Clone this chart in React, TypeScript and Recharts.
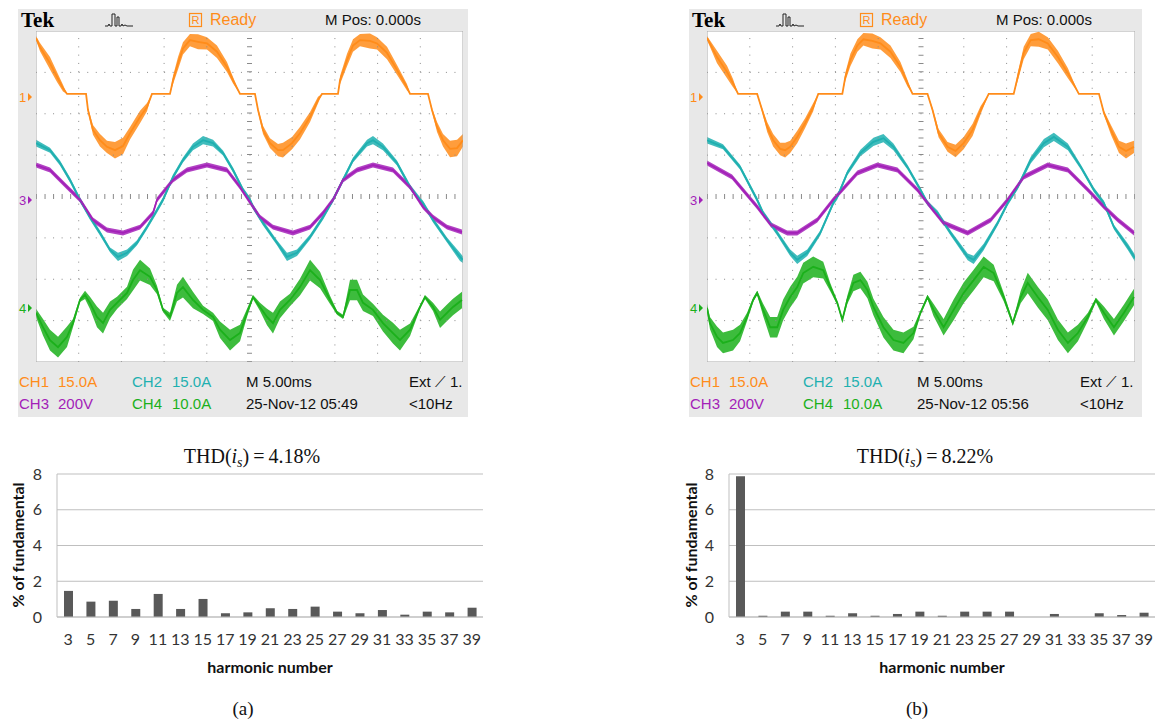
import React from "react";
import {
  ComposedChart,
  Line,
  Area,
  XAxis,
  YAxis,
  ReferenceLine,
  BarChart,
  Bar,
  CartesianGrid,
} from "recharts";

// scope traces: [time ms, level in divisions from centre, noise half-width in divisions]
type Pt = [number, number, number];

const L_CH1: Pt[] = [
  [0, 3.83, 0.05], [0.47, 3.61, 0.1], [1.64, 3.22, 0.15], [2.46, 2.89, 0.12], [3.16, 2.62, 0.08],
  [3.63, 2.48, 0], [5.86, 2.48, 0], [6.09, 2.09, 0.05], [6.67, 1.61, 0.12], [7.49, 1.36, 0.15],
  [8.31, 1.2, 0.15], [9.25, 1.12, 0.2], [10.19, 1.22, 0.2], [11.01, 1.53, 0.15], [12.18, 1.92, 0.15],
  [13.0, 2.16, 0.1], [13.58, 2.48, 0], [15.69, 2.48, 0], [16.04, 2.81, 0.1], [16.63, 3.22, 0.15],
  [17.21, 3.58, 0.15], [18.03, 3.78, 0.15], [18.97, 3.74, 0.18], [20.02, 3.7, 0.15], [21.19, 3.5, 0.15],
  [22.36, 3.13, 0.12], [23.07, 2.81, 0.08], [23.89, 2.48, 0], [25.64, 2.48, 0], [26.0, 2.09, 0.05],
  [26.58, 1.61, 0.1], [27.4, 1.29, 0.12], [28.34, 1.12, 0.15], [28.92, 1.12, 0.18], [29.98, 1.29, 0.15],
  [30.91, 1.53, 0.15], [32.09, 1.92, 0.12], [33.02, 2.33, 0.08], [33.49, 2.48, 0], [35.36, 2.48, 0],
  [35.6, 2.81, 0.1], [36.42, 3.3, 0.15], [37.12, 3.65, 0.15], [37.94, 3.78, 0.15], [39.11, 3.76, 0.18],
  [39.93, 3.7, 0.15], [41.1, 3.47, 0.15], [42.27, 3.06, 0.12], [43.44, 2.64, 0.08], [43.8, 2.48, 0],
  [45.9, 2.48, 0], [46.37, 2.09, 0.05], [46.96, 1.68, 0.12], [47.66, 1.36, 0.15], [48.48, 1.15, 0.2],
  [49.3, 1.17, 0.2], [50.0, 1.36, 0.15],
];

const L_CH2: Pt[] = [
  [0, 1.29, 0.08], [1.64, 1.12, 0.06], [2.81, 0.81, 0.06], [3.98, 0.4, 0.06], [5.15, -0.08, 0.06],
  [6.32, -0.5, 0.06], [7.49, -0.88, 0.06], [8.67, -1.29, 0.06], [9.6, -1.46, 0.1], [10.66, -1.36, 0.08],
  [11.83, -1.12, 0.06], [13.0, -0.74, 0.06], [14.17, -0.33, 0.06], [14.87, -0.08, 0.06], [16.04, 0.47, 0.06],
  [17.21, 0.88, 0.06], [18.38, 1.2, 0.08], [19.56, 1.36, 0.1], [20.73, 1.29, 0.08], [21.9, 1.05, 0.06],
  [23.07, 0.64, 0.06], [24.24, 0.16, 0.06], [25.06, -0.08, 0.06], [25.41, -0.25, 0.06], [26.58, -0.64, 0.06],
  [28.22, -1.12, 0.06], [29.39, -1.46, 0.1], [30.56, -1.36, 0.08], [32.09, -0.98, 0.06], [33.61, -0.5, 0.06],
  [34.78, -0.08, 0.06], [35.95, 0.4, 0.06], [37.12, 0.88, 0.06], [38.76, 1.29, 0.08], [39.46, 1.36, 0.1],
  [40.63, 1.2, 0.08], [42.27, 0.81, 0.06], [43.8, 0.23, 0.06], [44.97, -0.08, 0.06], [45.32, -0.16, 0.06],
  [46.49, -0.57, 0.06], [48.13, -1.05, 0.06], [49.65, -1.46, 0.1], [50.0, -1.53, 0.08],
];

const L_CH3: Pt[] = [
  [0, 0.76, 0.06], [1.64, 0.64, 0.06], [3.63, 0.23, 0.06], [5.15, -0.08, 0.06], [6.67, -0.57, 0.06],
  [8.31, -0.81, 0.06], [10.19, -0.88, 0.06], [12.18, -0.74, 0.06], [13.7, -0.4, 0.06], [14.17, -0.08, 0.06],
  [16.04, 0.4, 0.06], [17.68, 0.64, 0.06], [20.02, 0.76, 0.06], [22.36, 0.64, 0.06], [23.89, 0.23, 0.06],
  [25.41, -0.25, 0.06], [26.23, -0.5, 0.06], [27.75, -0.74, 0.06], [30.09, -0.88, 0.06], [32.09, -0.74, 0.06],
  [33.61, -0.4, 0.06], [34.78, -0.08, 0.06], [35.95, 0.4, 0.06], [37.59, 0.64, 0.06], [39.46, 0.76, 0.06],
  [41.8, 0.64, 0.06], [43.8, 0.23, 0.06], [45.32, -0.25, 0.06], [46.49, -0.5, 0.06], [48.13, -0.74, 0.06],
  [49.88, -0.86, 0.06],
];

const L_CH4: Pt[] = [
  [0, -2.81, 0.1], [0.82, -3.16, 0.2], [1.64, -3.47, 0.25], [2.58, -3.64, 0.25], [3.63, -3.39, 0.25],
  [4.33, -3.06, 0.1], [5.15, -2.5, 0.05], [5.74, -2.38, 0.1], [6.32, -2.57, 0.15], [7.14, -2.91, 0.25],
  [7.85, -3.06, 0.25], [8.67, -2.74, 0.2], [9.49, -2.57, 0.15], [10.66, -2.33, 0.15], [11.36, -2.02, 0.25],
  [12.18, -1.78, 0.25], [13.35, -1.94, 0.2], [14.17, -2.26, 0.1], [14.87, -2.74, 0.05], [15.69, -2.91, 0.1],
  [16.51, -2.33, 0.2], [17.21, -2.19, 0.25], [18.38, -2.5, 0.2], [19.56, -2.74, 0.1], [20.73, -2.91, 0.1],
  [21.55, -3.22, 0.2], [22.72, -3.47, 0.25], [23.89, -3.3, 0.2], [24.71, -2.81, 0.1], [25.41, -2.43, 0.05],
  [26.23, -2.67, 0.1], [27.05, -2.91, 0.2], [27.75, -3.06, 0.25], [28.57, -2.74, 0.2], [29.74, -2.5, 0.15],
  [30.91, -2.19, 0.2], [32.09, -1.78, 0.25], [33.26, -2.02, 0.2], [34.43, -2.5, 0.1], [35.25, -2.81, 0.05],
  [35.95, -2.91, 0.05], [36.77, -2.26, 0.25], [37.59, -2.26, 0.25], [38.29, -2.57, 0.2], [39.46, -2.74, 0.15],
  [40.63, -3.06, 0.2], [41.8, -3.3, 0.25], [42.62, -3.47, 0.25], [43.8, -3.22, 0.15], [44.97, -2.67, 0.05],
  [45.55, -2.43, 0.05], [46.49, -2.67, 0.1], [47.31, -2.98, 0.2], [48.13, -2.81, 0.2], [48.83, -2.67, 0.2],
  [49.88, -2.5, 0.2],
];

const R_CH1: Pt[] = [
  [0, 3.83, 0.05], [1.17, 3.37, 0.15], [2.34, 3.01, 0.15], [3.04, 2.74, 0.1], [3.63, 2.48, 0],
  [5.86, 2.48, 0], [6.44, 2.09, 0.05], [7.03, 1.68, 0.12], [7.73, 1.36, 0.15], [8.55, 1.15, 0.15],
  [9.13, 1.12, 0.18], [9.72, 1.2, 0.15], [10.54, 1.44, 0.15], [11.48, 1.78, 0.12], [12.41, 2.16, 0.1],
  [13.0, 2.48, 0], [15.81, 2.48, 0], [16.16, 2.89, 0.1], [16.75, 3.3, 0.15], [17.57, 3.65, 0.15],
  [18.27, 3.8, 0.15], [19.32, 3.76, 0.18], [20.26, 3.7, 0.15], [21.43, 3.5, 0.15], [22.6, 3.13, 0.12],
  [23.42, 2.74, 0.08], [24.01, 2.48, 0], [25.76, 2.48, 0], [26.35, 2.09, 0.05], [27.05, 1.53, 0.1],
  [28.1, 1.2, 0.12], [29.04, 1.1, 0.15], [29.98, 1.29, 0.15], [31.03, 1.61, 0.15], [31.97, 2.09, 0.1],
  [32.91, 2.48, 0], [35.83, 2.48, 0], [36.3, 2.89, 0.1], [37.0, 3.47, 0.15], [37.82, 3.78, 0.15],
  [38.76, 3.8, 0.18], [39.81, 3.7, 0.15], [40.99, 3.37, 0.15], [42.16, 2.98, 0.12], [43.44, 2.48, 0],
  [45.79, 2.48, 0], [46.37, 2.02, 0.05], [47.19, 1.61, 0.12], [48.13, 1.2, 0.15], [48.95, 1.1, 0.18],
  [49.88, 1.2, 0.15],
];

const R_CH2: Pt[] = [
  [0, 1.36, 0.08], [1.87, 1.2, 0.06], [3.86, 0.71, 0.06], [5.86, -0.08, 0.06], [6.56, -0.4, 0.06],
  [8.2, -0.88, 0.06], [9.72, -1.36, 0.08], [10.54, -1.53, 0.1], [11.71, -1.36, 0.08], [13.23, -0.88, 0.06],
  [14.75, -0.16, 0.06], [15.22, -0.01, 0.06], [16.39, 0.57, 0.06], [17.92, 1.05, 0.08], [19.44, 1.32, 0.1],
  [20.61, 1.41, 0.1], [21.78, 1.2, 0.08], [23.42, 0.71, 0.06], [24.94, 0.16, 0.06], [25.76, -0.16, 0.06],
  [26.93, -0.4, 0.06], [28.46, -0.88, 0.06], [30.45, -1.46, 0.08], [31.15, -1.53, 0.1], [32.32, -1.22, 0.08],
  [33.96, -0.64, 0.06], [35.13, -0.16, 0.06], [36.3, 0.23, 0.06], [37.82, 0.88, 0.08], [39.35, 1.29, 0.1],
  [40.52, 1.44, 0.1], [42.16, 1.2, 0.08], [43.68, 0.71, 0.06], [45.2, 0.16, 0.06], [46.37, -0.16, 0.06],
  [47.54, -0.74, 0.06], [49.18, -1.22, 0.08], [50.0, -1.49, 0.08],
];

const R_CH3: Pt[] = [
  [0, 0.81, 0.06], [2.93, 0.47, 0.06], [5.86, -0.25, 0.06], [7.49, -0.69, 0.06], [9.37, -0.88, 0.06],
  [10.54, -0.88, 0.06], [12.88, -0.57, 0.06], [14.75, -0.08, 0.06], [17.57, 0.57, 0.06], [19.91, 0.76, 0.06],
  [22.25, 0.64, 0.06], [24.59, 0.16, 0.06], [26.11, -0.25, 0.06], [27.64, -0.64, 0.06], [30.45, -0.88, 0.06],
  [33.14, -0.57, 0.06], [35.13, -0.08, 0.06], [37.0, 0.47, 0.06], [39.81, 0.76, 0.06], [42.16, 0.64, 0.06],
  [44.5, 0.16, 0.06], [46.37, -0.25, 0.06], [48.01, -0.57, 0.06], [49.88, -0.88, 0.06],
];

const R_CH4: Pt[] = [
  [0, -2.69, 0.1], [0.35, -3.06, 0.15], [1.17, -3.39, 0.25], [1.87, -3.54, 0.25], [3.04, -3.47, 0.25],
  [3.86, -3.3, 0.2], [4.68, -2.91, 0.1], [5.39, -2.5, 0.05], [5.86, -2.33, 0.05], [6.56, -2.74, 0.15],
  [7.38, -3.16, 0.25], [8.2, -3.16, 0.25], [8.9, -2.74, 0.25], [9.72, -2.43, 0.25], [10.54, -2.19, 0.25],
  [11.24, -1.85, 0.25], [12.41, -1.7, 0.25], [13.58, -1.78, 0.2], [14.4, -2.19, 0.1], [15.22, -2.57, 0.05],
  [15.81, -2.98, 0.05], [16.39, -2.5, 0.1], [17.1, -2.09, 0.2], [17.92, -2.02, 0.2], [18.74, -2.26, 0.2],
  [19.44, -2.67, 0.2], [20.61, -3.16, 0.25], [21.78, -3.47, 0.25], [22.95, -3.54, 0.25], [24.12, -3.3, 0.15],
  [24.94, -2.81, 0.05], [25.76, -2.43, 0.05], [26.46, -2.74, 0.15], [27.64, -3.16, 0.2], [28.81, -2.74, 0.25],
  [29.98, -2.33, 0.25], [31.15, -2.02, 0.25], [32.32, -1.7, 0.25], [33.49, -1.85, 0.2], [34.66, -2.43, 0.1],
  [35.72, -3.06, 0.05], [36.65, -2.43, 0.15], [37.47, -2.09, 0.25], [38.64, -2.43, 0.25], [39.81, -2.74, 0.25],
  [40.99, -3.22, 0.25], [42.16, -3.54, 0.25], [43.33, -3.3, 0.2], [44.5, -2.91, 0.1], [45.43, -2.5, 0.05],
  [46.37, -2.81, 0.15], [47.54, -3.16, 0.2], [48.71, -2.81, 0.2], [49.88, -2.43, 0.2],
];

// harmonic spectra of the source current, % of fundamental
const harmonics = [3, 5, 7, 9, 11, 13, 15, 17, 19, 21, 23, 25, 27, 29, 31, 33, 35, 37, 39];
const spectrumA = [1.46, 0.86, 0.91, 0.45, 1.29, 0.45, 1.01, 0.21, 0.26, 0.49, 0.45, 0.58, 0.3, 0.21, 0.39, 0.13, 0.3, 0.26, 0.52];
const spectrumB = [7.87, 0.07, 0.3, 0.3, 0.07, 0.21, 0.07, 0.17, 0.3, 0.07, 0.3, 0.3, 0.3, 0, 0.17, 0, 0.21, 0.11, 0.24];
const percentTicks = [0, 2, 4, 6, 8];

const timeDivs = [5, 10, 15, 20, 30, 35, 40, 45];
const levelDivs = [-3, -2, -1, 1, 2, 3];

const ORANGE = "#ff8c1a";
const CYAN = "#1fb0b0";
const MAGENTA = "#a321b8";
const GREEN = "#1bb01b";
const SANS = "'Liberation Sans', Arial, sans-serif";
const SERIF = "'Liberation Serif', 'Times New Roman', serif";
const LABEL = "Lato, 'Open Sans', sans-serif";

const toRows = (pts: Pt[]) => pts.map(([t, v, n]) => ({ t, v, band: [v - n, v + n] }));

interface Trace {
  name: string;
  color: string;
  pts: Pt[];
}

function Panel({ w, date }: { w: number; date: string }) {
  const row1 = 378;
  const row2 = 400;
  return (
    <svg width={w} height={408} style={{ position: "absolute", left: 0, top: 0 }}>
      <rect width={w} height={408} fill="#e8e8e8" />
      <text x={3} y={17.5} fontFamily={SERIF} fontWeight="bold" fontSize={21}>Tek</text>
      <polyline
        points="87,17 90,17 91,15 92,17 94,17 94,5 97,5 97,17 99,17 99,8 101,8 101,17 103,17 104,15 105,17 107,16 109,17 115,17"
        fill="none"
        stroke="#222"
        strokeWidth={1}
      />
      <rect x={171.5} y={4.5} width={12} height={13} fill="none" stroke={ORANGE} strokeWidth={1.2} />
      <text x={177.5} y={15} textAnchor="middle" fontFamily={SANS} fontSize={11} fill={ORANGE}>R</text>
      <text x={192} y={16} fontFamily={SANS} fontSize={16} fill={ORANGE}>Ready</text>
      <text x={307} y={15.5} fontFamily={SANS} fontSize={15} fill="#111">M Pos: 0.000s</text>
      <path d="M231 24 V29 M227 28 L235 28 L231 33 Z" stroke="#111" strokeWidth={1.5} fill="#111" />
      <text x={1} y={93} fontFamily={SANS} fontSize={13} fill={ORANGE}>1</text>
      <path d="M10 84 L14 88 L10 92 Z" fill={ORANGE} />
      <text x={1} y={196} fontFamily={SANS} fontSize={13} fill={MAGENTA}>3</text>
      <path d="M10 187 L14 191 L10 195 Z" fill={MAGENTA} />
      <text x={1} y={304} fontFamily={SANS} fontSize={13} fill={GREEN}>4</text>
      <path d="M10 295 L14 299 L10 303 Z" fill={GREEN} />
      <g fontFamily={SANS} fontSize={15}>
        <text x={1} y={row1} fill={ORANGE}>CH1</text>
        <text x={40} y={row1} fill={ORANGE}>15.0A</text>
        <text x={114} y={row1} fill={CYAN}>CH2</text>
        <text x={154} y={row1} fill={CYAN}>15.0A</text>
        <text x={228} y={row1} fill="#111">M 5.00ms</text>
        <text x={391} y={row1} fill="#111">Ext ⟋ 1.</text>
        <text x={1} y={row2} fill={MAGENTA}>CH3</text>
        <text x={40} y={row2} fill={MAGENTA}>200V</text>
        <text x={114} y={row2} fill={GREEN}>CH4</text>
        <text x={154} y={row2} fill={GREEN}>10.0A</text>
        <text x={228} y={row2} fill="#111">{date}</text>
        <text x={391} y={row2} fill="#111">&lt;10Hz</text>
      </g>
    </svg>
  );
}

function Scope({ left, panelW, gridW, date, traces }: { left: number; panelW: number; gridW: number; date: string; traces: Trace[] }) {
  const gridH = 331;
  return (
    <div style={{ position: "absolute", left: left - 18, top: 9, width: panelW, height: 408, overflow: "hidden" }}>
      <Panel w={panelW} date={date} />
      <div style={{ position: "absolute", left: 18, top: 22, width: gridW, height: gridH, background: "#fff" }}>
        <ComposedChart width={gridW} height={gridH} margin={{ top: 0, right: 0, bottom: 0, left: 0 }}>
          <XAxis type="number" dataKey="t" domain={[0, 50]} allowDataOverflow hide />
          <YAxis type="number" domain={[-4, 4]} allowDataOverflow hide />
          {timeDivs.map((x) => (
            <ReferenceLine key={"x" + x} x={x} stroke="#8a8a8a" strokeDasharray="1 7.28" />
          ))}
          {levelDivs.map((y) => (
            <ReferenceLine key={"y" + y} y={y} stroke="#8a8a8a" strokeDasharray="1 7.54" />
          ))}
          <ReferenceLine x={25} stroke="#8a8a8a" strokeWidth={5} strokeDasharray="1 7.28" />
          <ReferenceLine y={0} stroke="#8a8a8a" strokeWidth={5} strokeDasharray="1 7.54" />
          <ReferenceLine x={0} stroke="#a8a8a8" />
          <ReferenceLine x={50} stroke="#a8a8a8" />
          <ReferenceLine y={4} stroke="#a8a8a8" />
          <ReferenceLine y={-4} stroke="#a8a8a8" />
          {traces.map((tr) => [
            <Area
              key={tr.name + "-noise"}
              data={toRows(tr.pts)}
              dataKey="band"
              type="linear"
              stroke="none"
              fill={tr.color}
              fillOpacity={0.85}
              isAnimationActive={false}
            />,
            <Line
              key={tr.name}
              data={toRows(tr.pts)}
              dataKey="v"
              type="linear"
              stroke={tr.color}
              strokeWidth={1.8}
              dot={false}
              isAnimationActive={false}
            />,
          ])}
        </ComposedChart>
      </div>
    </div>
  );
}

function Spectrum({ left, width, values, thd, caption, titleX, yLabelX, xLabelX, captionX }: {
  left: number; width: number; values: number[]; thd: string; caption: string;
  titleX: number; yLabelX: number; xLabelX: number; captionX: number;
}) {
  const rows = harmonics.map((h, i) => ({ h: String(h), p: values[i] }));
  const tick = { fill: "#333", fontSize: 16, fontFamily: LABEL };
  return (
    <>
      <div style={{ position: "absolute", left: titleX - 120, top: 443, width: 240, textAlign: "center", fontFamily: SERIF, fontSize: 20, lineHeight: "26px", color: "#111" }}>
        THD(<i>i</i><sub style={{ fontSize: 14, fontStyle: "italic", verticalAlign: "-4px" }}>s</sub>){"\u2009=\u2009"}{thd}
      </div>
      <div style={{ position: "absolute", left, top: 460 }}>
        <BarChart width={width} height={200} data={rows} margin={{ top: 14, right: 7, bottom: 13, left: 0 }} barSize={9}>
          <CartesianGrid vertical={false} stroke="#bfbfbf" />
          <XAxis dataKey="h" interval={0} tickLine={false} axisLine={{ stroke: "#bfbfbf" }} tick={tick} tickMargin={11} height={30} />
          <YAxis domain={[0, 8]} ticks={percentTicks} tickLine={false} axisLine={{ stroke: "#bfbfbf" }} tick={tick} tickMargin={9} width={57} />
          <Bar dataKey="p" fill="#595959" isAnimationActive={false} />
        </BarChart>
      </div>
      <div style={{ position: "absolute", left: yLabelX - 80, top: 545 - 10, width: 160, height: 20, transform: "rotate(-90deg)", textAlign: "center", fontFamily: LABEL, fontWeight: 700, fontSize: 16, lineHeight: "20px", color: "#111" }}>
        % of fundamental
      </div>
      <div style={{ position: "absolute", left: xLabelX - 80, top: 657, width: 160, textAlign: "center", fontFamily: LABEL, fontWeight: 700, fontSize: 16, lineHeight: "20px", color: "#111" }}>
        harmonic number
      </div>
      <div style={{ position: "absolute", left: captionX - 30, top: 697, width: 60, textAlign: "center", fontFamily: SERIF, fontSize: 19, lineHeight: "24px", color: "#111" }}>
        {caption}
      </div>
    </>
  );
}

export default function App() {
  const leftTraces: Trace[] = [
    { name: "ch1", color: ORANGE, pts: L_CH1 },
    { name: "ch2", color: CYAN, pts: L_CH2 },
    { name: "ch3", color: MAGENTA, pts: L_CH3 },
    { name: "ch4", color: GREEN, pts: L_CH4 },
  ];
  const rightTraces: Trace[] = [
    { name: "ch1", color: ORANGE, pts: R_CH1 },
    { name: "ch2", color: CYAN, pts: R_CH2 },
    { name: "ch3", color: MAGENTA, pts: R_CH3 },
    { name: "ch4", color: GREEN, pts: R_CH4 },
  ];
  return (
    <div style={{ position: "absolute", left: 0, top: 0, width: 1156, height: 724, background: "#fff", overflow: "hidden" }}>
      <Scope left={36} panelW={450} gridW={427} date="25-Nov-12 05:49" traces={leftTraces} />
      <Scope left={707} panelW={453} gridW={428} date="25-Nov-12 05:56" traces={rightTraces} />
      <Spectrum left={0} width={490} values={spectrumA} thd="4.18%" caption="(a)" titleX={252} yLabelX={18} xLabelX={270} captionX={243} />
      <Spectrum left={672} width={490} values={spectrumB} thd="8.22%" caption="(b)" titleX={925} yLabelX={691} xLabelX={942} captionX={917} />
    </div>
  );
}
